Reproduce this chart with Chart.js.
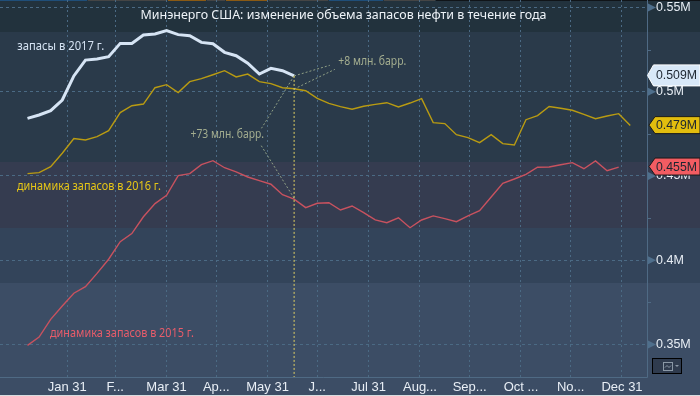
<!DOCTYPE html>
<html>
<head>
<meta charset="utf-8">
<style>html,body{margin:0;padding:0;background:#3c4d65}canvas{display:block}</style>
<script src="https://cdn.jsdelivr.net/npm/chart.js@4"></script>
</head>
<body>
<canvas id="c" width="700" height="396"></canvas>
<script>
const weekDays = [7,14,21,28,35,42,49,56,63,70,77,84,91,98,105,112,119,126,133,140,147,154,161,168,175,182,189,196,203,210,217,224,231,238,245,252,259,266,273,280,287,294,301,308,315,322,329,336,343,350,357,364,371];
const stocks2017 = [0.4842,0.4862,0.4888,0.4951,0.5094,0.5188,0.5194,0.5208,0.5287,0.5287,0.5337,0.5343,0.5363,0.5339,0.5333,0.5293,0.5285,0.5234,0.5214,0.5169,0.5105,0.5139,0.5125,0.5094];
const stocks2016 = [0.4514,0.4520,0.4555,0.4635,0.4722,0.4714,0.4734,0.4769,0.4876,0.4917,0.4927,0.5024,0.5042,0.4995,0.5060,0.5078,0.5101,0.5125,0.5088,0.5105,0.5060,0.5048,0.5024,0.5018,0.5006,0.4961,0.4931,0.4912,0.4896,0.4914,0.4925,0.4935,0.4910,0.4933,0.4959,0.4817,0.4811,0.4745,0.4728,0.4698,0.4745,0.4692,0.4684,0.4834,0.4858,0.4912,0.4902,0.4890,0.4866,0.4840,0.4856,0.4870,0.4799];
const stocks2015 = [0.3495,0.3544,0.3649,0.3728,0.3804,0.3843,0.3922,0.4006,0.4110,0.4158,0.4258,0.4336,0.4385,0.4502,0.4514,0.4567,0.4591,0.4549,0.4525,0.4494,0.4472,0.4451,0.4389,0.4363,0.4312,0.4338,0.4341,0.4298,0.4322,0.4282,0.4239,0.4223,0.4252,0.4193,0.4239,0.4263,0.4247,0.4229,0.4263,0.4294,0.4375,0.4457,0.4482,0.4510,0.4552,0.4553,0.4567,0.4579,0.4543,0.4589,0.4531,0.4553];
const tickDays = [31,60,91,121,152,182,213,244,274,305,335,366];
const tickLabels = ["Jan 31","F...","Mar 31","Ap...","May 31","J...","Jul 31","Aug...","Sep...","Oct ...","No...","Dec 31"];
const yMajor = [0.35,0.4,0.45,0.5,0.55];
const yMinor = [0.375,0.425,0.475,0.525];
const markerDay = [168,168];
const markerValue = [0.5094,0.3307];
const calloutA = [[168,0.5094],[189.6,0.5157]];
const calloutB = [[168,0.5016],[192.6,0.5133]];
const calloutC = [[168,0.5094],[148.3,0.4783]];
const calloutD = [[168,0.4368],[147.9,0.4684]];
const titleText = "Минэнерго США: изменение объема запасов нефти в течение года";
const notes = [
  {text:"запасы в 2017 г.", value:0.5269, color:"#d5e3f3", left:17.3, width:87},
  {text:"динамика запасов в 2016 г.", value:0.4436, color:"#e6c617", left:17, width:144},
  {text:"динамика запасов в 2015 г.", value:0.3565, color:"#e85c6a", left:50, width:144},
  {text:"+73 млн. барр.", value:0.4747, color:"#a3ad8f", left:190.5, width:73.5},
  {text:"+8 млн. барр.", value:0.5181, color:"#a3ad8f", left:338.3, width:68}
];
const tags = [
  {text:"0.509M", value:0.5094, fill:"#d8e8f8", stroke:"#ffffff", tip:647.5, half:10.5},
  {text:"0.479M", value:0.4799, fill:"#e2bd0e", stroke:"#1a1a1a", tip:649, half:8.5},
  {text:"0.455M", value:0.4553, fill:"#f25c62", stroke:"#1a1a1a", tip:649, half:8.5}
];
const FONT = '"Noto Sans"';
const AXISFONT = '"Liberation Sans"';
const toXY = (ys) => ys.map((y,i)=>({x:weekDays[i],y}));
const pairs = (p) => p.map(a=>({x:a[0],y:a[1]}));
const callout = (p) => ({data:pairs(p),borderColor:"#8f9f85",borderWidth:1,borderDash:[2,2],pointRadius:0,fill:false,order:0});
const noPad = (s) => {s.paddingTop=0;s.paddingBottom=0;s.paddingLeft=0;s.paddingRight=0;};

const decor = {
  id:"decor",
  beforeDraw(ch){
    const g=ch.ctx, W=700;
    const bands=[[0,32,"#22323d"],[32,162,"#2a3a4a"],[162,228,"#353c50"],[228,283,"#33445a"],[283,395,"#3c4d65"],[395,396,"#d8dde0"]];
    bands.forEach(b=>{g.fillStyle=b[2];g.fillRect(0,b[0],W,b[1]-b[0]);});
    const strip=[[0,87,"#1f4e79"],[88,167,"#454545"],[168,206,"#8a5a14"],[207,225,"#454545"],[226,268,"#8a5a14"],[269,328,"#454545"],[329,383,"#1f4e79"],[384,435,"#454545"],[436,700,"#101418"]];
    strip.forEach(s=>{g.fillStyle=s[2];g.fillRect(s[0],0,s[1]-s[0],1);});
  },
  afterDraw(ch){
    const g=ch.ctx, ys=ch.scales.y, a=ch.chartArea;
    g.save();
    g.strokeStyle="#4f6a84";g.lineWidth=1;
    g.beginPath();g.moveTo(a.right+0.5,0);g.lineTo(a.right+0.5,a.bottom+0.5);g.lineTo(0,a.bottom+0.5);g.stroke();
    yMajor.forEach(v=>{const y=ys.getPixelForValue(v);g.fillStyle="#4f6f8c";g.beginPath();g.moveTo(a.right+1,y-4);g.lineTo(a.right+9,y);g.lineTo(a.right+1,y+4);g.closePath();g.fill();});
    yMinor.forEach(v=>{const y=Math.round(ys.getPixelForValue(v))+0.5;g.beginPath();g.moveTo(a.right,y);g.lineTo(a.right+4,y);g.stroke();});
    g.textBaseline="middle";g.textAlign="left";
    g.font="12.5px "+FONT;g.fillStyle="#eef3f8";g.fillText(titleText,140.5,15,406);
    g.font="12px "+FONT;
    notes.forEach(n=>{g.fillStyle=n.color;g.fillText(n.text,n.left,ys.getPixelForValue(n.value),n.width);});
    tags.forEach(t=>{
      const y=ys.getPixelForValue(t.value)-0.5;
      g.beginPath();g.moveTo(t.tip,y);g.lineTo(t.tip+6,y-t.half);g.lineTo(700,y-t.half);g.lineTo(700,y+t.half);g.lineTo(t.tip+6,y+t.half);g.closePath();
      g.fillStyle=t.fill;g.fill();g.strokeStyle=t.stroke;g.stroke();
      g.fillStyle="#1c2530";g.font="13px "+AXISFONT;g.fillText(t.text,656,y+0.5,41);
    });
    g.fillStyle="#2f3b4e";g.fillRect(652.5,358.5,29,15);g.strokeStyle="#000";g.strokeRect(652.5,358.5,29,15);
    g.strokeStyle="#8b98a6";g.strokeRect(663.5,362.5,9,8);
    g.beginPath();g.moveTo(665,367.5);g.lineTo(667,365.5);g.lineTo(669,367.5);g.lineTo(671,365.5);g.stroke();
    g.fillStyle="#8b98a6";g.beginPath();g.moveTo(675,365);g.lineTo(679,365);g.lineTo(677,367);g.closePath();g.fill();
    g.restore();
  }
};

new Chart(document.getElementById("c"),{
  type:"line",
  plugins:[decor],
  data:{datasets:[
    {data:toXY(stocks2015),borderColor:"#c8525f",borderWidth:1.4,pointRadius:0,tension:0,order:3},
    {data:toXY(stocks2016),borderColor:"#b99b12",borderWidth:1.4,pointRadius:0,tension:0,order:2},
    {data:toXY(stocks2017),borderColor:"#d6e4f4",borderWidth:3,pointRadius:0,tension:0,order:1},
    {data:markerDay.map((x,i)=>({x,y:markerValue[i]})),borderColor:"#e0d064",borderWidth:1,borderDash:[2,2],pointRadius:0,order:0},
    callout(calloutA),callout(calloutB),callout(calloutC),callout(calloutD)
  ]},
  options:{
    responsive:false,animation:false,
    layout:{padding:0},
    plugins:{legend:{display:false},tooltip:{enabled:false},title:{display:false}},
    scales:{
      x:{type:"linear",min:-9.6,max:381.1,
        afterBuildTicks(s){s.ticks=tickDays.map(value=>({value}));},
        afterFit(s){s.height=19;noPad(s);},
        grid:{color:"#4b6a84",lineWidth:1,drawTicks:false},
        border:{display:false,dash:[2,3]},
        ticks:{color:"#e8eef5",font:{family:AXISFONT,size:13},padding:3,maxRotation:0,autoSkip:false,
          callback(v){return tickLabels[tickDays.indexOf(v)];}}
      },
      y:{position:"right",min:0.3307,max:0.55445,
        afterBuildTicks(s){s.ticks=yMajor.map(value=>({value}));},
        afterFit(s){s.width=53;noPad(s);},
        grid:{color:"#4b6a84",lineWidth:1,drawTicks:false},
        border:{display:false,dash:[3,3]},
        ticks:{color:"#e8eef5",font:{family:AXISFONT,size:12.5},padding:9,
          callback(v){return v+"M";}}
      }
    }
  }
});
</script>
</body>
</html>
